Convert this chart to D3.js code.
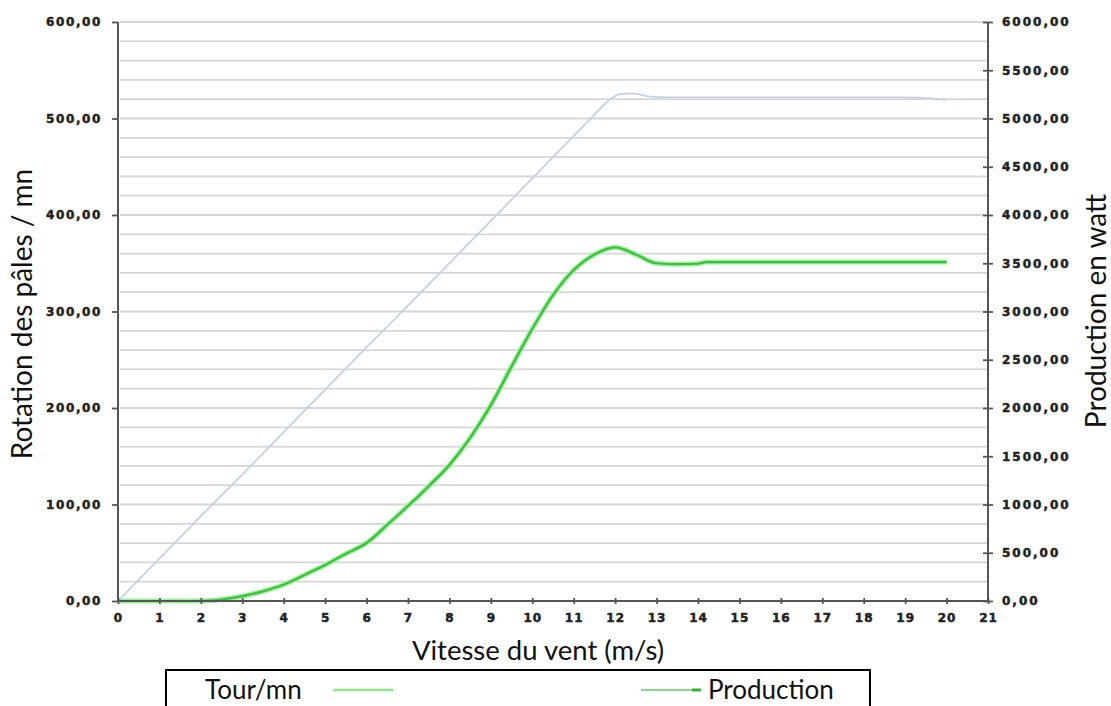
<!DOCTYPE html>
<html>
<head>
<meta charset="utf-8">
<script src="https://cdn.jsdelivr.net/npm/d3@7"></script>
<style>
  html, body { margin: 0; padding: 0; background: #fff; }
  svg { display: block; }
  .tick-label { font-family: "DejaVu Sans", Verdana, sans-serif; font-weight: bold; font-size: 12px; fill: #222; stroke: #222; stroke-width: 0.5px; }
  .title { font-family: Lato, "Open Sans", sans-serif; fill: #111; }
</style>
</head>
<body>
<svg id="chart" width="1111" height="706"></svg>
<script>
// ---------- data ----------
const xTicks = d3.range(0, 22);                       // 0 .. 21 m/s
const leftTicks = [0, 100, 200, 300, 400, 500, 600];  // tr/mn
const rightTicks = [0, 500, 1000, 1500, 2000, 2500, 3000, 3500, 4000, 4500, 5000, 5500, 6000]; // W

// Rotation des pâles (tr/mn) vs vitesse du vent (m/s)
const rpmWind   = [0, 1, 2, 3, 4, 5, 6, 7, 8, 9, 10, 11, 11.5, 11.8, 12.1, 12.4, 12.8, 13.2, 14, 15, 16, 17, 18, 19, 19.6, 20];
const rpmValues = [0, 44, 88, 131, 175, 219, 263, 306, 350, 394, 438, 482, 504, 517, 525, 526, 523, 522, 522, 522, 522, 522, 522, 522, 521, 519];

// Production (W) vs vitesse du vent (m/s)
const prodWind   = [0, 1, 2, 2.5, 3, 3.5, 4, 4.5, 5, 5.5, 6, 6.5, 7, 7.5, 8, 8.5, 9, 9.5, 10, 10.5, 11, 11.5, 12, 12.5, 13, 13.5, 14, 14.2, 15, 16, 17, 18, 19, 20];
const prodValues = [0, 0, 0, 15, 50, 100, 170, 270, 373, 490, 601, 790, 985, 1190, 1410, 1690, 2030, 2430, 2820, 3170, 3430, 3590, 3665, 3590, 3500, 3490, 3495, 3512, 3512, 3512, 3512, 3512, 3512, 3512];

const legendItems = ["Tour/mn", "Production"];

// ---------- layout ----------
const svg = d3.select("#chart");
const L = 118, R = 988, T = 22, B = 601;

const x = d3.scaleLinear().domain([0, 21]).range([L, R]);
const yL = d3.scaleLinear().domain([0, 600]).range([B, T]);
const yR = d3.scaleLinear().domain([0, 6000]).range([B, T]);

// grid lines every 20 tr/mn
const grid = svg.append("g");
grid.selectAll("line").data(d3.range(20, 601, 20)).join("line")
  .attr("x1", L + 2).attr("x2", R - 1)
  .attr("y1", d => yL(d)).attr("y2", d => yL(d))
  .attr("stroke", "#d6d6d6").attr("stroke-width", 1.8);

// ---------- curves ----------
const rpmData = rpmWind.map((w, i) => [w, rpmValues[i]]);
const prodData = prodWind.map((w, i) => [w, prodValues[i]]);

const lineL = d3.line().x(d => x(d[0])).y(d => yL(d[1])).curve(d3.curveMonotoneX);
const lineR = d3.line().x(d => x(d[0])).y(d => yR(d[1])).curve(d3.curveMonotoneX);

svg.append("path").datum(rpmData).attr("d", lineL)
  .attr("fill", "none").attr("stroke", "#c2d0e4").attr("stroke-width", 1.7);

svg.append("path").datum(prodData).attr("d", lineR)
  .attr("fill", "none").attr("stroke", "#9af09a").attr("stroke-width", 5).attr("stroke-linejoin", "round");
svg.append("path").datum(prodData).attr("d", lineR)
  .attr("fill", "none").attr("stroke", "#3cbf3c").attr("stroke-width", 2.2).attr("stroke-linejoin", "round");

// ---------- axes ----------
const axisColor = "#555";
const fmt = d => d3.format(".2f")(d).replace(".", ",");
const axLeft = d3.axisLeft(yL).tickValues(leftTicks).tickSize(6).tickPadding(10).tickFormat(fmt);
const gL = svg.append("g").attr("transform", `translate(${L},0)`).call(axLeft);

const axRight = d3.axisRight(yR).tickValues(rightTicks).tickSize(5).tickPadding(9).tickFormat(fmt);
const gR = svg.append("g").attr("transform", `translate(${R},0)`).call(axRight);
gR.selectAll(".tick line").attr("x1", -5);

const axBottom = d3.axisBottom(x).tickValues(xTicks).tickSize(3).tickPadding(9).tickFormat(d3.format("d"));
const gB = svg.append("g").attr("transform", `translate(0,${B})`).call(axBottom);
gB.selectAll(".tick line").attr("y1", -3);

[gL, gR, gB].forEach(g => {
  g.select(".domain").attr("stroke", axisColor).attr("stroke-width", 2);
  g.selectAll(".tick line").attr("stroke", axisColor).attr("stroke-width", 1.8);
  g.selectAll(".tick text").attr("class", "tick-label").attr("font-size", null).attr("font-family", null).attr("fill", null);
});
gL.select(".domain").attr("d", `M0,${B}V${T}`);
gR.select(".domain").attr("d", `M0,${B}V${T}`);
gB.select(".domain").attr("d", `M${L},0H${R}`);
gL.selectAll(".tick text").style("letter-spacing", "1.6px");
gR.selectAll(".tick text").style("letter-spacing", "2px");
gB.selectAll(".tick text").style("letter-spacing", "1px");

// ---------- titles ----------
svg.append("text").attr("class", "title").style("font-size", "28px")
  .attr("transform", `translate(32,${314}) rotate(-90)`).attr("text-anchor", "middle")
  .text("Rotation des pâles / mn");
svg.append("text").attr("class", "title").style("font-size", "28px")
  .attr("transform", `translate(1106,${311}) rotate(-90)`).attr("text-anchor", "middle")
  .text("Production en watt");
svg.append("text").attr("class", "title").style("font-size", "27.5px")
  .attr("x", 538).attr("y", 660).attr("text-anchor", "middle")
  .text("Vitesse du vent (m/s)");

// ---------- legend ----------
const lg = svg.append("g");
lg.append("path").attr("d", "M166,710V670H870V710")
  .attr("fill", "none").attr("stroke", "#000").attr("stroke-width", 2);
lg.append("text").attr("class", "title").style("font-size", "26px").attr("x", 205).attr("y", 699).text(legendItems[0]);
lg.append("line").attr("x1", 333).attr("x2", 393).attr("y1", 690).attr("y2", 690)
  .attr("stroke", "#8ee88e").attr("stroke-width", 2.5);
lg.append("line").attr("x1", 641).attr("x2", 701).attr("y1", 690).attr("y2", 690)
  .attr("stroke", "#5fcf5f").attr("stroke-width", 1.5);
lg.append("line").attr("x1", 692).attr("x2", 701).attr("y1", 690).attr("y2", 690)
  .attr("stroke", "#2fae2f").attr("stroke-width", 3);
lg.append("text").attr("class", "title").style("font-size", "26px").attr("x", 708).attr("y", 699).text(legendItems[1]);
</script>
</body>
</html>
